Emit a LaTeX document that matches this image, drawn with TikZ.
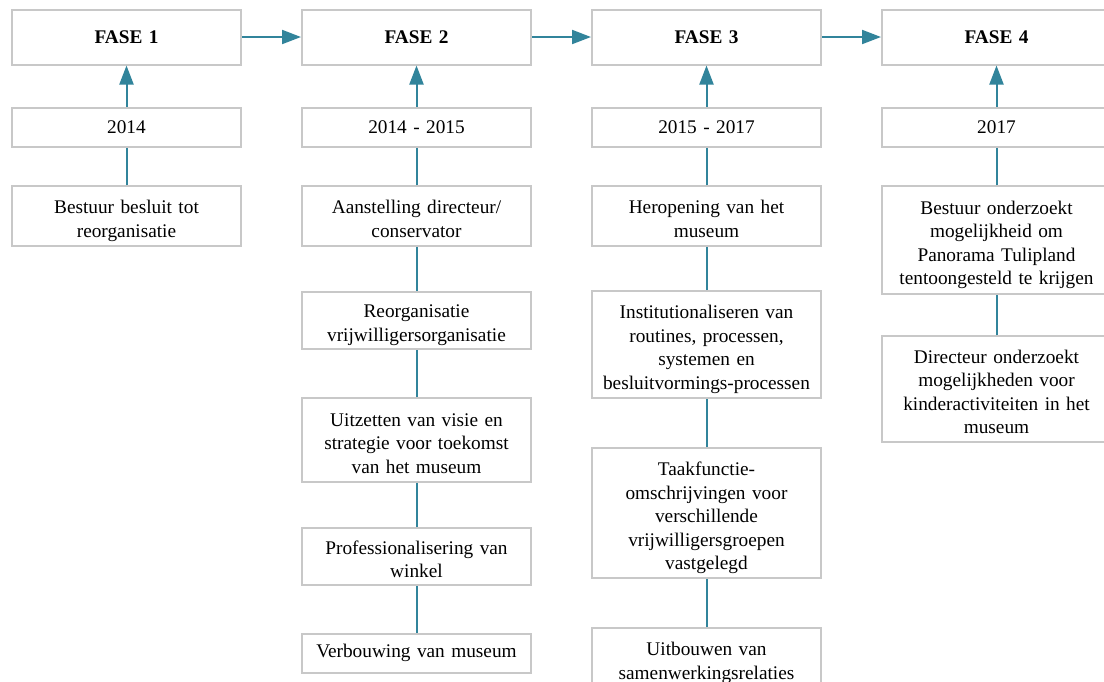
\documentclass[tikz,border=0pt]{standalone}
\usepackage{fontspec}
\setmainfont{Liberation Serif}
\usetikzlibrary{arrows.meta}
\definecolor{boxline}{HTML}{C8C8C8}
\definecolor{linkc}{HTML}{31849B}
\begin{document}
\begin{tikzpicture}[x=1pt,y=-1pt,
  frame/.style={draw=boxline, line width=2pt, fill=white, minimum width=229pt,
    inner sep=0pt, text width=225pt, align=center,
    font=\fontsize{19.3}{23.5}\selectfont},
  % activity boxes: fixed first-line height and last-line depth keep the text block steady
  box/.style={frame,
    execute at begin node={\rule{0pt}{24pt}},
    execute at end node={\rule[-5pt]{0pt}{0pt}}},
  phase/.style={frame, minimum height=55pt, font=\fontsize{19.3}{23.5}\selectfont\bfseries},
  year/.style={frame, minimum height=39pt},
  link/.style={draw=linkc, line width=2pt},
  flow/.style={link, -{Triangle[length=19pt,width=14pt]}}]

\fill[white] (0,0) rectangle (1104,681);
\useasboundingbox (0,0) rectangle (1104,681);

% phase headers
\node[phase] (f1) at (126.5,37) {FASE 1};
\node[phase] (f2) at (416.5,37) {FASE 2};
\node[phase] (f3) at (706.5,37) {FASE 3};
\node[phase] (f4) at (996.5,37) {FASE 4};

% periods
\node[year] (y1) at (126.5,127) {2014};
\node[year] (y2) at (416.5,127) {2014 - 2015};
\node[year] (y3) at (706.5,127) {2015 - 2017};
\node[year] (y4) at (996.5,127) {2017};

% phase 1
\node[box, minimum height=60pt] (a1) at (126.5,216) {Bestuur besluit tot\\reorganisatie};

% phase 2
\node[box, minimum height=60pt] (b1) at (416.5,216) {Aanstelling directeur/\\conservator};
\node[box, minimum height=57pt] (b2) at (416.5,320) {Reorganisatie\\vrijwilligersorganisatie};
\node[box, minimum height=84pt] (b3) at (416.5,440) {Uitzetten van visie en\\strategie voor toekomst\\van het museum};
\node[box, minimum height=57pt] (b4) at (416.5,556.5) {Professionalisering van\\winkel};
\node[year] (b5) at (416.5,653) {Verbouwing van museum};

% phase 3
\node[box, minimum height=60pt] (c1) at (706.5,216) {Heropening van het\\museum};
\node[box, minimum height=107pt] (c2) at (706.5,344.5) {Institutionaliseren van\\routines, processen,\\systemen en\\besluitvormings-processen};
\node[box, minimum height=130pt] (c3) at (706.5,513) {Taakfunctie-\\omschrijvingen voor\\verschillende\\vrijwilligersgroepen\\vastgelegd};
\node[box, minimum height=60pt] (c4) at (706.5,658) {Uitbouwen van\\samenwerkingsrelaties};

% phase 4
\node[box, minimum height=108pt] (d1) at (996.5,240) {Bestuur onderzoekt\\mogelijkheid om\\Panorama Tulipland\\tentoongesteld te krijgen};
\node[box, minimum height=106pt] (d2) at (996.5,389) {Directeur onderzoekt\\mogelijkheden voor\\kinderactiviteiten in het\\museum};

% sequence of phases
\draw[flow] (f1.east) -- (f2.west);
\draw[flow] (f2.east) -- (f3.west);
\draw[flow] (f3.east) -- (f4.west);

% periods point to their phase
\draw[flow] (y1.north) -- (f1.south);
\draw[flow] (y2.north) -- (f2.south);
\draw[flow] (y3.north) -- (f3.south);
\draw[flow] (y4.north) -- (f4.south);

% activity chains
\draw[link] (a1.north) -- (y1.south);
\draw[link] (b1.north) -- (y2.south);
\draw[link] (b2.north) -- (b1.south);
\draw[link] (b3.north) -- (b2.south);
\draw[link] (b4.north) -- (b3.south);
\draw[link] (b5.north) -- (b4.south);
\draw[link] (c1.north) -- (y3.south);
\draw[link] (c2.north) -- (c1.south);
\draw[link] (c3.north) -- (c2.south);
\draw[link] (c4.north) -- (c3.south);
\draw[link] (d1.north) -- (y4.south);
\draw[link] (d2.north) -- (d1.south);
\end{tikzpicture}
\end{document}
